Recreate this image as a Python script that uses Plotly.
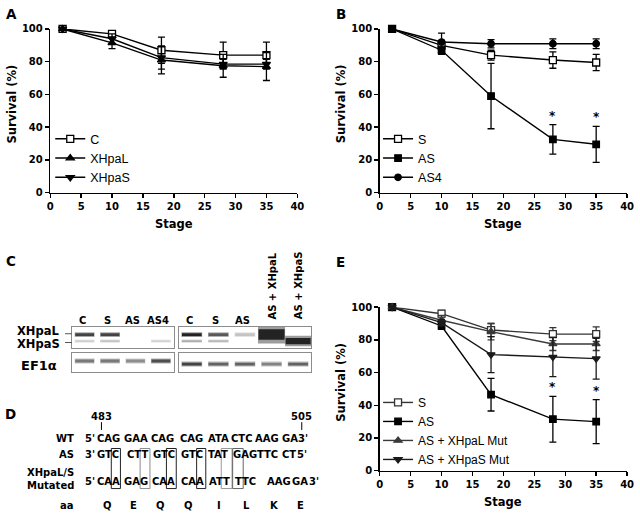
import plotly.graph_objects as go

W, H = 640, 518
def X(p): return p / W
def Y(p): return 1 - p / H

# ---------------- data ----------------
stages = [2, 10, 18, 28, 35]

# Panel A
a_C = [100, 97, 87, 84, 84]
a_C_err = [0, 2, 8, 8, 8]
a_L = [100, 91.5, 81, 77.5, 77]
a_L_err = [0, 3.5, 8.5, 7, 8.5]
a_S = [100, 94, 82.5, 78.5, 78.5]
a_S_err = [0, 3, 7, 3, 3]

# Panel B
b_S = [100, 90, 84, 81, 79.5]
b_S_err = [0, 3, 3, 5, 5]
b_AS = [100, 87, 59, 32.5, 29.5]
b_AS_err = [0, 2.5, 20, 9, 11]
b_AS4 = [100, 92, 91, 91, 91]
b_AS4_err = [0, 5.5, 2.5, 3, 3]
b_sig = [28, 35]

# Panel E
e_S = [100, 96, 86, 83.5, 83.5]
e_S_err = [0, 2, 4, 4, 4.5]
e_AS = [100, 88.5, 46.5, 31.5, 30]
e_AS_err = [0, 2, 10, 14, 13.5]
e_L = [100, 92, 85, 77.5, 77.5]
e_L_err = [0, 3, 5, 4, 4]
e_Sm = [100, 90.5, 71, 69.5, 68.5]
e_Sm_err = [0, 2, 11, 12, 12.5]
e_sig = [28, 35]

# Panel C (relative band intensities; >1 = overexpressed)
lanes_left = ["C", "S", "AS", "AS4"]
lanes_right = ["C", "S", "AS", "AS + XHpaL", "AS + XHpaS"]
left_L = [0.85, 0.85, 0.0, 0.0]
left_S = [0.2, 0.25, 0.0, 0.18]
right_L = [1.0, 0.75, 0.25, 4.0, 0.0]
right_S = [0.35, 0.3, 0.0, 0.0, 3.4]
ef_left = [0.6, 0.6, 0.5, 0.8]
ef_right = [0.85, 0.7, 0.7, 0.55, 0.7]

# Panel D
seq_wt = ["5'", "CAG", "GAA", "CAG", "CAG", "ATA", "CTC", "AAG", "GA", "3'"]
seq_as = ["3'", "GTC", "CTT", "GTC", "GTC", "TAT", "GAG", "TTC", "CT", "5'"]
seq_mut = ["5'", "CAA", "GAG", "CAA", "CAA", "ATT", "TTC", "AAG", "GA", "3'"]
aa_res = ["Q", "E", "Q", "Q", "I", "L", "K", "E"]
nt_start, nt_end = "483", "505"

# ---------------- layout helpers ----------------
BOLD = lambda s: dict(family="DejaVu Sans", size=s, weight="bold", color="black")

fig = go.Figure()

def series(y, err, name, sym, size, xa, ya, leg, color="black", fill=None):
    fig.add_trace(go.Scatter(
        x=stages, y=y, name=name, mode="lines+markers",
        line=dict(color=color, width=1.4),
        marker=dict(symbol=sym, size=size, color=fill or color,
                    line=dict(color=color, width=1.3)),
        error_y=dict(type="data", array=err, visible=True, thickness=1.3,
                     width=3.5, color=color),
        xaxis=xa, yaxis=ya, legend=leg, cliponaxis=False, hoverinfo="skip"))

series(a_C, a_C_err, "C", "square", 7, "x", "y", "legend", fill="white")
series(a_L, a_L_err, "XHpaL", "triangle-up", 7, "x", "y", "legend")
series(a_S, a_S_err, "XHpaS", "triangle-down", 7, "x", "y", "legend")

series(b_S, b_S_err, "S", "square", 7, "x2", "y2", "legend2", fill="white")
series(b_AS, b_AS_err, "AS", "square", 6.5, "x2", "y2", "legend2")
series(b_AS4, b_AS4_err, "AS4", "circle", 6.5, "x2", "y2", "legend2")

series(e_S, e_S_err, "S", "square", 7, "x3", "y3", "legend3", color="#333333", fill="white")
series(e_AS, e_AS_err, "AS", "square", 6.5, "x3", "y3", "legend3")
series(e_L, e_L_err, "AS + XHpaL Mut", "triangle-up", 7, "x3", "y3", "legend3", color="#3a3a3a")
series(e_Sm, e_Sm_err, "AS + XHpaS Mut", "triangle-down", 7, "x3", "y3", "legend3", color="#1a1a1a")

# gel bands
def gel(intens, center, xa, ya, base_th):
    xs, ys, bs, ws, cs = [], [], [], [], []
    hx, hy, hb, hw, hc = [], [], [], [], []
    for i, I in enumerate(intens):
        if I <= 0:
            continue
        th = base_th if I <= 1 else base_th * I * 0.95
        wd = 0.74 if I <= 1 else 0.72 + 0.065 * I
        g = int(250 - 215 * min(I, 1))
        hg = int(g + (255 - g) * 0.55)
        xs.append(i); ys.append(th); bs.append(center - th / 2); ws.append(wd)
        cs.append(f"rgb({g},{g},{g})")
        hx.append(i); hy.append(th * 1.7); hb.append(center - th * 0.85); hw.append(wd + 0.04)
        hc.append(f"rgb({hg},{hg},{hg})")
    for (xx, yy, bb, ww, cc) in [(hx, hy, hb, hw, hc), (xs, ys, bs, ws, cs)]:
        fig.add_trace(go.Bar(x=xx, y=yy, base=bb, width=ww,
                             marker=dict(color=cc, line=dict(width=0)),
                             xaxis=xa, yaxis=ya, showlegend=False, hoverinfo="skip"))

gel(left_L, 0.37, "x4", "y4", 0.13)
gel(left_S, 0.68, "x4", "y4", 0.09)
gel(ef_left, 0.42, "x5", "y5", 0.15)
gel(right_L, 0.37, "x6", "y6", 0.13)
gel(right_S, 0.68, "x6", "y6", 0.09)
gel(ef_right, 0.58, "x7", "y7", 0.15)

common = dict(showline=True, linecolor="black", linewidth=1.5, ticks="outside",
              ticklen=4, tickwidth=1.5, tickcolor="black", showgrid=False,
              zeroline=False, tickfont=BOLD(10), fixedrange=True)
gelax = dict(showline=True, mirror=True, linecolor="#8c8c8c", linewidth=1,
             showticklabels=False, ticks="", showgrid=False, zeroline=False,
             fixedrange=True)

plots = {"": ([48, 299], [191, 23.5]), "2": ([382.7, 634], [191, 23.5]),
         "3": ([382.7, 634], [475.7, 308.3])}
lay = {}
for k, (xd, yd) in plots.items():
    lay["xaxis" + k] = dict(domain=[X(xd[0]), X(xd[1])], range=[0, 40], dtick=5,
                            anchor="y" + k, **common)
    lay["yaxis" + k] = dict(domain=[Y(yd[0]), Y(yd[1])], range=[0, 100], dtick=20,
                            anchor="x" + k, **common)
gels = {"4": ([70, 173.3], [350, 328.3], 4), "5": ([70, 173.3], [375, 355], 4),
        "6": ([178.3, 313.3], [350, 328.3], 5), "7": ([178.3, 313.3], [375, 355], 5)}
for k, (xd, yd, n) in gels.items():
    lay["xaxis" + k] = dict(domain=[X(xd[0]), X(xd[1])], range=[-0.5, n - 0.5],
                            anchor="y" + k, **gelax)
    lay["yaxis" + k] = dict(domain=[Y(yd[0]), Y(yd[1])], range=[1, 0],
                            anchor="x" + k, **gelax)

ann = []
def txt(x, y, t, font, xa="left", ya="middle", **kw):
    ann.append(dict(x=X(x), y=Y(y), xref="paper", yref="paper", text=t,
                    showarrow=False, xanchor=xa, yanchor=ya, font=font, **kw))

# panel letters
for L, (x, y) in {"A": (1, 8), "B": (336, 8), "C": (1, 261), "D": (0, 417.5),
                  "E": (336, 262)}.items():
    txt(x, y, L, BOLD(13.5))
# axis titles
for (cx, cy) in [(173.5, 223.5), (508, 223.5), (508, 508)]:
    txt(cx, cy, "Stage", BOLD(11.5), xa="center")
for cy, cx in [(100, 9), (100, 343), (385, 343)]:
    txt(cx, cy, "Survival (%)", BOLD(11.5), xa="center", textangle=-90)

# significance asterisks
for s in b_sig:
    i = stages.index(s)
    ann.append(dict(x=s, y=b_AS[i] + b_AS_err[i], xref="x2", yref="y2", text="*",
                    showarrow=False, yanchor="bottom", font=BOLD(12)))
for s in e_sig:
    i = stages.index(s)
    ann.append(dict(x=s, y=e_AS[i] + e_AS_err[i], xref="x3", yref="y3", text="*",
                    showarrow=False, yanchor="bottom", font=BOLD(12)))

# gel lane labels
for i, l in enumerate(lanes_left):
    ann.append(dict(x=i - 0.1, y=Y(321.5), xref="x4", yref="paper", text=l,
                    showarrow=False, yanchor="middle", font=BOLD(10)))
for i, l in enumerate(lanes_right):
    if "+" in l:
        ann.append(dict(x=i, y=Y(323), xref="x6", yref="paper", text=l,
                        showarrow=False, yanchor="bottom", textangle=-90, font=BOLD(10)))
    else:
        ann.append(dict(x=i - 0.1, y=Y(321.5), xref="x6", yref="paper", text=l,
                        showarrow=False, yanchor="middle", font=BOLD(10)))
txt(12, 332.2, "XHpaL", BOLD(11.5))
txt(12, 345.8, "XHpaS", BOLD(11.5))
txt(16, 368, "EF1α", BOLD(13))

# panel D
rows = [(seq_wt, [82, 94.5, 122, 149, 179, 207, 231, 255, 282, 299], 443),
        (seq_as, [82, 94, 125, 151, 180, 207, 233, 257, 282, 297.5], 459),
        (seq_mut, [82, 94, 122, 150, 180, 208, 235, 267, 293, 310], 487)]
for toks, xs, y in rows:
    for t, x in zip(toks, xs):
        txt(x - 1, y, t, BOLD(10))
for t, x in zip(aa_res, [106, 133, 160.5, 188, 219, 247.5, 276, 302.5]):
    txt(x, 511.5, t, BOLD(10), xa="center")
for t, y in [("WT", 443), ("AS", 459), ("XHpaL/S", 477.5), ("Mutated", 490.5), ("aa", 511.5)]:
    txt(74, y, t, BOLD(10), xa="right")
txt(100, 420, nt_start, BOLD(10), xa="center")
txt(303.5, 420, nt_end, BOLD(10), xa="center")

shapes = []
def line(x0, y0, x1, y1, color="black", w=1):
    shapes.append(dict(type="line", xref="paper", yref="paper", x0=X(x0), y0=Y(y0),
                       x1=X(x1), y1=Y(y1), line=dict(color=color, width=w)))
line(100, 426, 100, 434)
line(303.5, 426, 303.5, 434)
line(63, 335.5, 70, 335.5, "#555555")
line(63, 344.5, 70, 344.5, "#555555")
for x0, x1, c in [(110, 119.3, "#222222"), (139.3, 149.3, "#8c8c8c"), (166, 176, "#222222"),
                  (196.7, 206, "#222222"), (221.7, 232.7, "#999999"), (233.3, 244, "#666666")]:
    shapes.append(dict(type="rect", xref="paper", yref="paper", x0=X(x0), x1=X(x1),
                       y0=Y(494), y1=Y(453), line=dict(color=c, width=1)))

legbase = dict(xanchor="left", yanchor="top", bgcolor="rgba(0,0,0,0)",
               itemwidth=30, tracegroupgap=0, itemclick=False, itemdoubleclick=False)
fig.update_layout(
    width=W, height=H, margin=dict(l=0, r=0, t=0, b=0),
    paper_bgcolor="white", plot_bgcolor="white", barmode="overlay",
    showlegend=True, hovermode=False,
    legend=dict(x=X(48), y=Y(121), font=dict(family="Liberation Sans", size=12.5, color="black"), **legbase),
    legend2=dict(x=X(381), y=Y(121), font=dict(family="Liberation Sans", size=12.5, color="black"), **legbase),
    legend3=dict(x=X(381), y=Y(391), font=dict(family="Liberation Sans", size=12, color="black"), **legbase),
    annotations=ann, shapes=shapes, **lay)

fig.write_html("out.html", config={"displayModeBar": False, "staticPlot": True},
               post_script="document.documentElement.style.margin='0';document.body.style.margin='0';document.body.style.padding='0';document.body.style.overflow='hidden';")
